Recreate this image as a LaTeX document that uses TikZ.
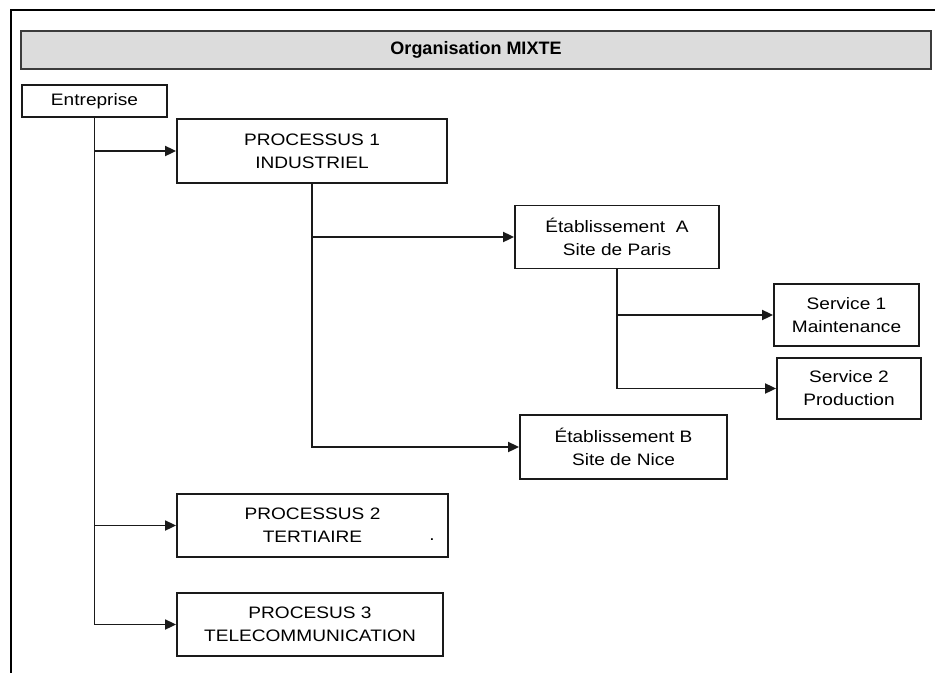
\documentclass[tikz,border=0pt]{standalone}
\usepackage{fontspec}
\setmainfont{Liberation Sans}
\newfontfamily\boxfont[FakeStretch=1.15]{Liberation Sans}
\usetikzlibrary{arrows.meta}
\definecolor{titlefill}{HTML}{DCDCDC}
\definecolor{titleedge}{HTML}{3C3C3C}
\definecolor{boxedge}{HTML}{1A1A1A}
\tikzset{
  frameline/.style={line width=2.4pt, black},
  orgbox/.style={draw=boxedge, line width=1.8pt, fill=white, rectangle, inner sep=0pt,
    align=center, font=\boxfont\fontsize{16.6}{23}\selectfont},
  titlebox/.style={draw=titleedge, line width=2.4pt, fill=titlefill, rectangle, inner sep=0pt,
    font=\bfseries\fontsize{18}{22}\selectfont},
  arr/.style={line width=1.8pt, boxedge, -{Triangle[length=11pt,width=10pt]}},
}
\begin{document}
\begin{tikzpicture}[x=1pt,y=-1pt]
\useasboundingbox (0,0) rectangle (935,673);
% outer frame (top and left edges)
\draw[frameline] (935,10) -- (11,10) -- (11,673);
% title
\node[titlebox, minimum width=910pt, minimum height=38pt] (title) at (476,50) {Organisation MIXTE};
% boxes
\node[orgbox, minimum width=145pt, minimum height=32pt] (ent) at (94.5,101) {Entreprise};
\node[orgbox, minimum width=270pt, minimum height=64pt] (p1) at (312,151) {PROCESSUS 1\\INDUSTRIEL};
\node[orgbox, minimum width=204pt, minimum height=63pt] (ea) at (617,237) {Établissement\ \ A\\Site de Paris};
\node[orgbox, minimum width=145pt, minimum height=62pt] (s1) at (846.5,315) {Service 1\\Maintenance};
\node[orgbox, minimum width=144pt, minimum height=61pt] (s2) at (849,388.5) {Service 2\\Production};
\node[orgbox, minimum width=207pt, minimum height=64pt] (eb) at (623.5,447) {Établissement B\\Site de Nice};
\node[orgbox, minimum width=271pt, minimum height=63pt] (p2) at (312.5,525.5) {PROCESSUS 2\\TERTIAIRE};
\node[inner sep=0pt, font=\boxfont\fontsize{16.6}{23}\selectfont] (dot) at (432,540) {.};
\node[orgbox, minimum width=266pt, minimum height=63pt] (p3) at (310,624.5) {PROCESUS 3\\TELECOMMUNICATION};
% connectors
\draw[arr] (ent.south) |- (p1.west);
\draw[arr] (ent.south) |- (p2.west);
\draw[arr] (ent.south) |- (p3.west);
\draw[arr] (p1.south) |- (ea.west);
\draw[arr] (p1.south) |- (eb.west);
\draw[arr] (ea.south) |- (s1.west);
\draw[arr] (ea.south) |- (s2.west);
\end{tikzpicture}
\end{document}
